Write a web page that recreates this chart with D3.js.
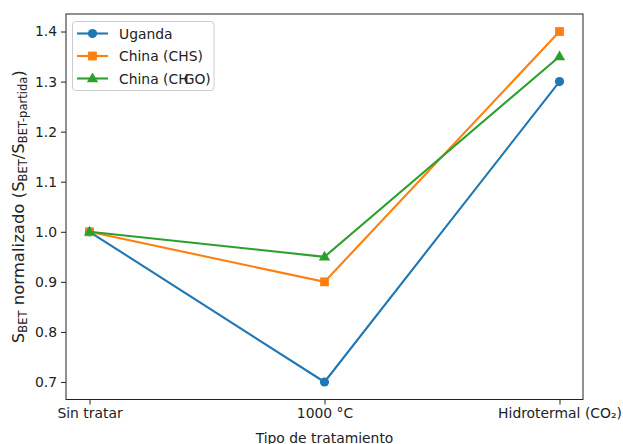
<!DOCTYPE html>
<html>
<head>
<meta charset="utf-8">
<script src="https://cdn.jsdelivr.net/npm/d3@7"></script>
<style>
  body { margin: 0; background: #fff; }
  svg { font-family: "DejaVu Sans", sans-serif; }
</style>
</head>
<body>
<div id="chart"></div>
<script>
// data
const categories = ["Sin tratar", "1000 °C", "Hidrotermal (CO₂)"];
const uganda = [1.0, 0.7, 1.3];
const chinaCHS = [1.0, 0.9, 1.4];
const chinaCHGO = [1.0, 0.95, 1.35];
const yTicks = [0.7, 0.8, 0.9, 1.0, 1.1, 1.2, 1.3, 1.4];

const width = 623, height = 444;
const plot = { left: 66, right: 583, top: 14, bottom: 399.5 };
const fs = 13.9;

const series = [
    { name: "Uganda", values: uganda, color: "#1f77b4", marker: "circle" },
    { name: "China (CHS)", values: chinaCHS, color: "#ff7f0e", marker: "square" },
    { name: "China (CHGO)", values: chinaCHGO, color: "#2ca02c", marker: "triangle" }
];

const svg = d3.select("#chart").append("svg")
    .attr("width", width)
    .attr("height", height);

const x = d3.scaleLinear().domain([-0.1, 2.1]).range([plot.left, plot.right]);
const y = d3.scaleLinear().domain([0.665, 1.435]).range([plot.bottom, plot.top]);

// axes
const xAxis = svg.append("g")
    .attr("transform", `translate(0,${plot.bottom})`)
    .call(d3.axisBottom(x).tickValues([0, 1, 2]).tickFormat(i => categories[i]).tickSize(5).tickPadding(4));
const yAxis = svg.append("g")
    .attr("transform", `translate(${plot.left},0)`)
    .call(d3.axisLeft(y).tickValues(yTicks).tickFormat(d3.format(".1f")).tickSize(5).tickPadding(4));

[xAxis, yAxis].forEach(g => {
    g.select(".domain").remove();
    g.selectAll("text").attr("font-size", fs).attr("fill", "#222").attr("font-family", "DejaVu Sans");
    g.selectAll("line").attr("stroke", "#222");
});

// frame
svg.append("rect")
    .attr("x", plot.left).attr("y", plot.top)
    .attr("width", plot.right - plot.left).attr("height", plot.bottom - plot.top)
    .attr("fill", "none").attr("stroke", "#222").attr("stroke-width", 1);

// lines
const line = d3.line().x((d, i) => x(i)).y(d => y(d));

function drawMarker(g, type, cx, cy, color) {
    if (type === "circle") {
        g.append("circle").attr("cx", cx).attr("cy", cy).attr("r", 4.6).attr("fill", color);
    } else if (type === "square") {
        g.append("rect").attr("x", cx - 4.4).attr("y", cy - 4.4).attr("width", 8.8).attr("height", 8.8).attr("fill", color);
    } else {
        g.append("path").attr("d", d3.symbol().type(d3.symbolTriangle).size(56)()).attr("transform", `translate(${cx},${cy + 0.5})`).attr("fill", color);
    }
}

series.forEach(s => {
    const g = svg.append("g");
    g.append("path")
        .datum(s.values)
        .attr("d", line)
        .attr("fill", "none")
        .attr("stroke", s.color)
        .attr("stroke-width", 2.1);
    s.values.forEach((v, i) => drawMarker(g, s.marker, x(i), y(v), s.color));
});

// legend
const legend = svg.append("g");
legend.append("rect")
    .attr("x", 72.5).attr("y", 21.5).attr("width", 141.5).attr("height", 69)
    .attr("rx", 3).attr("fill", "#fff").attr("fill-opacity", 0.8)
    .attr("stroke", "#ccc");
series.forEach((s, i) => {
    const ly = 33.5 + i * 22.5;
    legend.append("line").attr("x1", 77).attr("x2", 108).attr("y1", ly).attr("y2", ly)
        .attr("stroke", s.color).attr("stroke-width", 2.1);
    drawMarker(legend, s.marker, 92.5, ly, s.color);
    const t = legend.append("text").attr("x", 119).attr("y", ly).attr("dy", "0.36em")
        .attr("font-size", fs).attr("fill", "#222");
    if (s.name === "China (CHGO)") {
        t.append("tspan").text("China (CH");
        t.append("tspan").attr("dx", -5).text("GO)");
    } else {
        t.text(s.name);
    }
});

// axis labels
svg.append("text")
    .attr("x", (plot.left + plot.right) / 2).attr("y", 443)
    .attr("text-anchor", "middle").attr("font-size", fs).attr("fill", "#222")
    .text("Tipo de tratamiento");

const yl = svg.append("text")
    .attr("transform", `translate(24,${(plot.top + plot.bottom) / 2}) rotate(-90)`)
    .attr("text-anchor", "middle").attr("font-size", 16.5).attr("fill", "#222");
const parts = [["S", false], ["BET", true], [" normalizado (S", false], ["BET", true], ["/S", false], ["BET-partida", true], [")", false]];
parts.forEach(([t, sub], i) => {
    const prevSub = i > 0 && parts[i - 1][1];
    let dy = 0;
    if (sub) dy = 3;
    else if (prevSub) dy = -3;
    yl.append("tspan").attr("dy", dy).attr("font-size", sub ? 11.5 : 16.5).text(t);
});
</script>
</body>
</html>
